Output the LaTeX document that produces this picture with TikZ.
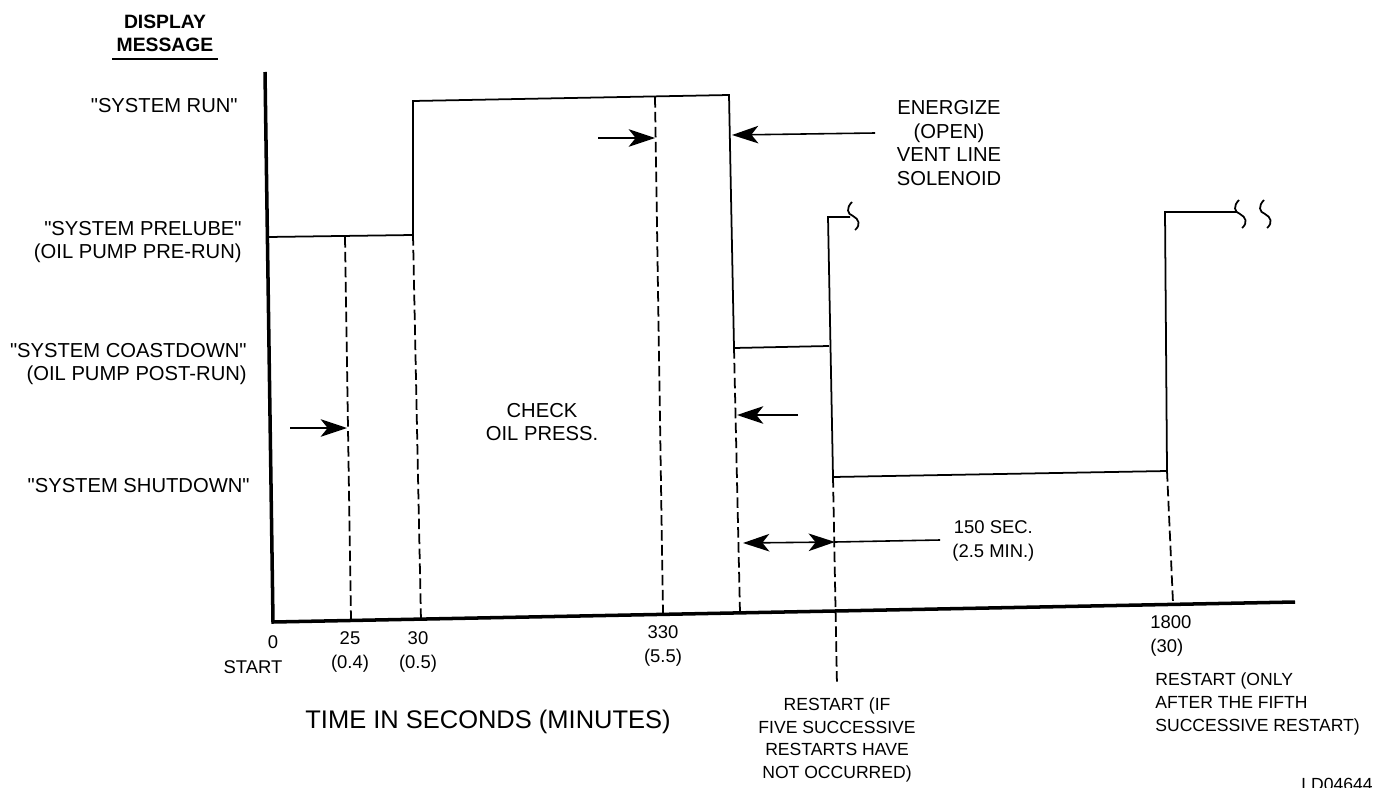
\documentclass[tikz,border=0pt]{standalone}
\usepackage{fontspec}
\setmainfont{Liberation Sans}
\usetikzlibrary{arrows.meta}

% straight double quote, past the TeX ligature mapping
\newcommand{\qt}{\XeTeXglyph\XeTeXcharglyph"22\relax}

\tikzset{
  axisline/.style={line width=2pt},
  trace/.style={line width=1pt},
  guide/.style={line width=1pt, dash pattern=on 6pt off 2.5pt},
  pointer/.style={line width=0.9pt, -{Stealth[length=15pt,width=10pt,inset=4pt]}},
  msg/.style={font=\fontsize{11.5}{13.5}\selectfont, inner sep=0pt, align=right, anchor=east},
  ticklabel/.style={font=\fontsize{10.5}{14}\selectfont, inner sep=0pt, align=center},
  note/.style={font=\fontsize{10}{13}\selectfont, inner sep=0pt},
  pics/squiggle/.style={code={
    \draw[trace] (0,-14) .. controls (-6,-8) and (-5,-2) .. (1,0)
      .. controls (7,3) and (9,9) .. (3,14);}},
}

\begin{document}
\begin{tikzpicture}[x=0.02cm, y=-0.02cm]
  \useasboundingbox (0,0) rectangle (1378,787);

  % axes
  \coordinate (ytop) at (265,72);
  \coordinate (o) at (273,622);
  \coordinate (xend) at (1295,602);
  \draw[axisline] (ytop) -- (o) -- (xend);

  % heading and messages
  \node[font=\bfseries\fontsize{11}{13}\selectfont, inner sep=0pt, align=center] (head) at (165,33) {DISPLAY\\MESSAGE};
  \draw[line width=1.1pt] (112,59) -- (218,59);
  \node[msg] (run) at (238,106) {\qt SYSTEM RUN\qt};
  \node[msg] (prelube) at (242,242) {\qt SYSTEM PRELUBE\qt\\(OIL PUMP PRE-RUN)};
  \node[msg] (coast) at (247,364) {\qt SYSTEM COASTDOWN\qt\\(OIL PUMP POST-RUN)};
  \node[msg] (shut) at (250,486) {\qt SYSTEM SHUTDOWN\qt};

  % display sequence
  \draw[trace] (268,237) -- (413,235) -- (413,101) -- (729,95) -- (734,348) -- (829,346);
  \draw[trace] (850,217) -- (828,217) -- (833,477) -- (1167,471) -- (1165,212) -- (1237,212);
  \pic at (852,216) {squiggle};
  \pic at (1239,214) {squiggle};
  \pic at (1264,214) {squiggle};

  % time marks
  \draw[guide] (345,237) -- (351,620);
  \draw[guide] (413,235) -- (421,621);
  \draw[guide] (655,97) -- (663,614);
  \draw[guide] (734,348) -- (740,613);
  \draw[guide] (833,477) -- (837,686);
  \draw[guide] (1167,471) -- (1173,603);

  % arrows
  \coordinate (t25) at (347,428);
  \coordinate (t330) at (655,138);
  \coordinate (tvent) at (732,135);
  \coordinate (tcoast) at (737,415);
  \coordinate (dleft) at (743,543);
  \coordinate (dright) at (835,542);
  \draw[pointer] (290,428) -- (t25);
  \draw[pointer] (598,138) -- (t330);
  \draw[pointer] (875,133) -- (tvent);
  \draw[pointer] (798,415) -- (tcoast);
  \draw[line width=0.9pt, {Stealth[length=15pt,width=10pt,inset=4pt]}-{Stealth[length=15pt,width=10pt,inset=4pt]}] (dleft) -- (dright);
  \draw[line width=0.9pt] (dright) -- (940,540);

  % labels
  \node[msg, anchor=center, align=center] (check) at (542,422) {CHECK\\OIL PRESS.};
  \node[msg, anchor=center, align=center] (vent) at (949,143) {ENERGIZE\\(OPEN)\\VENT LINE\\SOLENOID};
  \node[ticklabel, anchor=west] (dwell) at (952,541) {150 SEC.\\(2.5 MIN.)};

  \node[ticklabel] (l0) at (273,642) {0};
  \node[ticklabel] (lstart) at (253,667) {START};
  \node[ticklabel] (l25) at (350,652) {25\\(0.4)};
  \node[ticklabel] (l30) at (418,652) {30\\(0.5)};
  \node[ticklabel] (l330) at (663,646) {330\\(5.5)};
  \node[ticklabel, align=left, anchor=west] (l1800) at (1150,636) {1800\\(30)};

  \node[note, font=\fontsize{14.5}{17}\selectfont] (taxis) at (488,722) {TIME IN SECONDS (MINUTES)};
  \node[note, align=center] (rs1) at (837,740) {RESTART (IF\\FIVE SUCCESSIVE\\RESTARTS HAVE\\NOT OCCURRED)};
  \node[note, align=left, anchor=west] (rs2) at (1155,704) {RESTART (ONLY\\AFTER THE FIFTH\\SUCCESSIVE RESTART)};
  \node[note] (ref) at (1337,784) {LD04644};
\end{tikzpicture}
\end{document}
